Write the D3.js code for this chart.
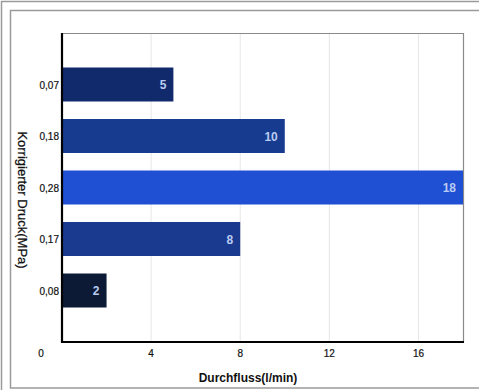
<!DOCTYPE html>
<html><head><meta charset="utf-8">
<script src="https://cdn.jsdelivr.net/npm/d3@7"></script>
<style>
html,body{margin:0;padding:0;background:#fff;}
svg{display:block;font-family:"Liberation Sans",Arial,sans-serif;}
</style></head>
<body>
<svg id="c" width="479" height="390"></svg>
<script>
const categories = ["0,07","0,18","0,28","0,17","0,08"];
const values = [5,10,18,8,2];
const barColors = ["#112a6c","#173b8e","#1f4fd2","#1a3a8f","#0c1a36"];
const xTicks = [0,4,8,12,16];
const xTitle = "Durchfluss(l/min)";
const yTitle = "Korrigierter Druck(MPa)";

const svg = d3.select("#c");
const L = 62, R = 463, T = 33, B = 342;

// outer frames
svg.append("rect").attr("x",1.5).attr("y",1.5).attr("width",490).attr("height",400)
  .attr("fill","none").attr("stroke","#9a9a9a").attr("stroke-width",1.5);
svg.append("rect").attr("x",10.5).attr("y",10.5).attr("width",480).attr("height",377.5)
  .attr("fill","none").attr("stroke","#9a9a9a").attr("stroke-width",1.5);

const x = d3.scaleLinear().domain([0,18]).range([L,R]);
const y = d3.scalePoint().domain(categories).range([T,B]).padding(1);
const bh = 34;

// grid
svg.append("g").selectAll("line").data(xTicks.filter(d=>d>0)).join("line")
  .attr("x1",d=>x(d)).attr("x2",d=>x(d)).attr("y1",T).attr("y2",B)
  .attr("stroke","#e6e6e6").attr("stroke-width",1);

// plot border (top/right)
svg.append("path").attr("d",`M${L},${T+0.5}H${R+0.5}V${B}`)
  .attr("fill","none").attr("stroke","#8a8a8a").attr("stroke-width",1.2);

// bars
svg.append("g").selectAll("rect").data(categories).join("rect")
  .attr("x",x(0)).attr("y",d=>y(d)-bh/2)
  .attr("width",(d,i)=>x(values[i])-x(0)).attr("height",bh)
  .attr("fill",(d,i)=>barColors[i]);

// bar labels
svg.append("g").selectAll("text").data(categories).join("text")
  .attr("x",(d,i)=>x(values[i])-7).attr("y",d=>y(d)+4.5)
  .attr("text-anchor","end").attr("font-size",12).attr("font-weight","bold")
  .attr("fill","#b9cbf2").text((d,i)=>values[i]);

// axes lines
svg.append("line").attr("x1",L).attr("x2",L).attr("y1",T).attr("y2",B+1)
  .attr("stroke","#000").attr("stroke-width",2.2);
svg.append("line").attr("x1",L-1).attr("x2",R+1).attr("y1",B).attr("y2",B)
  .attr("stroke","#000").attr("stroke-width",2.2);

// y tick labels
svg.append("g").selectAll("text").data(categories).join("text")
  .attr("x",L-3).attr("y",d=>y(d)+4)
  .attr("text-anchor","end").attr("font-size",10).attr("fill","#111")
  .attr("stroke","#111").attr("stroke-width",0.2)
  .text(d=>d);

// x tick labels
svg.append("g").selectAll("text").data(xTicks).join("text")
  .attr("x",d=>d===0 ? x(d)-21 : x(d)).attr("y",357)
  .attr("text-anchor","middle").attr("font-size",10).attr("fill","#111")
  .attr("stroke","#111").attr("stroke-width",0.2)
  .text(d=>d);

// titles
svg.append("text").attr("x",248).attr("y",382).attr("text-anchor","middle")
  .attr("font-size",12).attr("font-weight","bold").attr("fill","#111").text(xTitle);
svg.append("text").attr("transform","translate(18,200) rotate(90)")
  .attr("text-anchor","middle").attr("font-size",13).attr("fill","#111")
  .attr("stroke","#111").attr("stroke-width",0.25).text(yTitle);
</script>
</body></html>
